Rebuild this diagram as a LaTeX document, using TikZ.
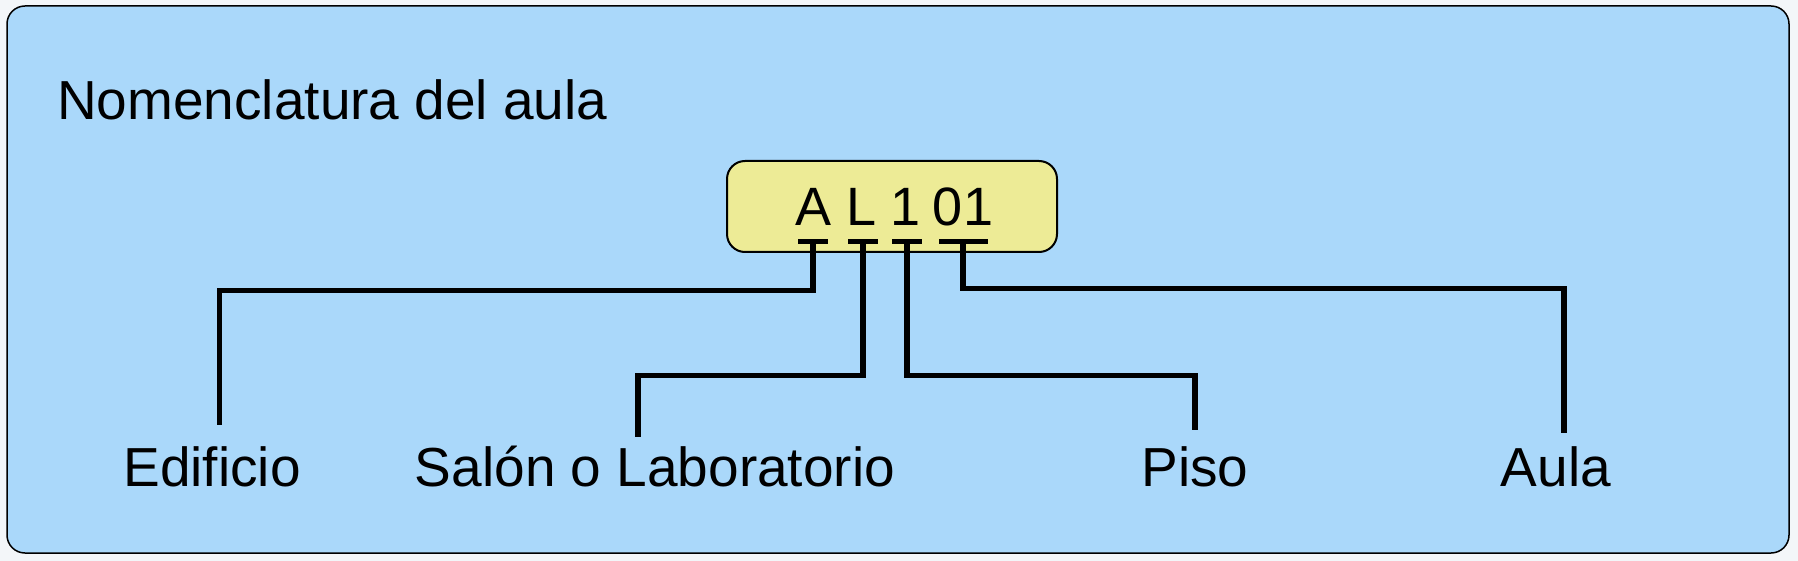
\documentclass[tikz,border=0pt]{standalone}
\usepackage{fontspec}
\setmainfont{Liberation Sans}
\usepackage{xcolor}
\usepackage{tikz}
\usetikzlibrary{positioning}
\definecolor{aupage}{HTML}{F3F6F9}
\definecolor{auframe}{HTML}{AAD8FA}
\definecolor{aucode}{HTML}{EDEB96}
\tikzset{
  frame/.style={draw=black,line width=1.5pt,fill=auframe,rounded corners=18pt},
  codebox/.style={draw=black,line width=2pt,fill=aucode,rounded corners=18pt,
    minimum width=330pt,minimum height=91pt,inner sep=0pt},
  codechar/.style={anchor=base,inner sep=0pt,font=\fontsize{54}{60}\selectfont},
  codebar/.style={fill=black,inner sep=0pt,minimum height=5pt},
  part/.style={anchor=base,inner xsep=0pt,inner ysep=14pt,text height=40pt,text depth=0pt,
    font=\fontsize{55}{62}\selectfont},
  link/.style={draw=black,line width=5.5pt}
}
\begin{document}
\begin{tikzpicture}[x=1pt,y=-1pt]
  \fill[aupage] (0,0) rectangle (1798,561);
  \draw[frame] (7,6) rectangle (1789,553);
  \node[anchor=base west,inner sep=0pt,font=\fontsize{55}{62}\selectfont] (title) at (57,120) {Nomenclatura del aula};
  \node[codebox] (code) at (892,206.5) {};
  \node[codechar] (cA) at (813,226) {A};
  \node[codechar] (cL) at (862,226) {L};
  \node[codechar] (cP) at (906,226) {1};
  \node[codechar] (cN) at (963,226) {01};
  \node[codebar,minimum width=30pt] (bA) at (813,241.5) {};
  \node[codebar,minimum width=30pt] (bL) at (863,241.5) {};
  \node[codebar,minimum width=30pt] (bP) at (907,241.5) {};
  \node[codebar,minimum width=49pt] (bN) at (963,241.5) {};
  \node[part] (edif) at (212,486) {Edificio};
  \node[part] (salon) at (655,486) {Salón o Laboratorio};
  \node[part] (piso) at (1195,486) {Piso};
  \node[part] (aula) at (1556,486) {Aula};
  \draw[link] (bA.center) -- ++(0,49) -| ([xshift=7.5pt,yshift=7pt]edif.north);
  \draw[link] (bL.center) -- ++(0,134) -| ([xshift=-17pt,yshift=-5pt]salon.north);
  \draw[link] (bP.center) -- ++(0,134) -| ([yshift=2pt]piso.north);
  \draw[link] (bN.center) -- ++(0,47) -| ([xshift=8pt,yshift=-1pt]aula.north);
\end{tikzpicture}
\end{document}
